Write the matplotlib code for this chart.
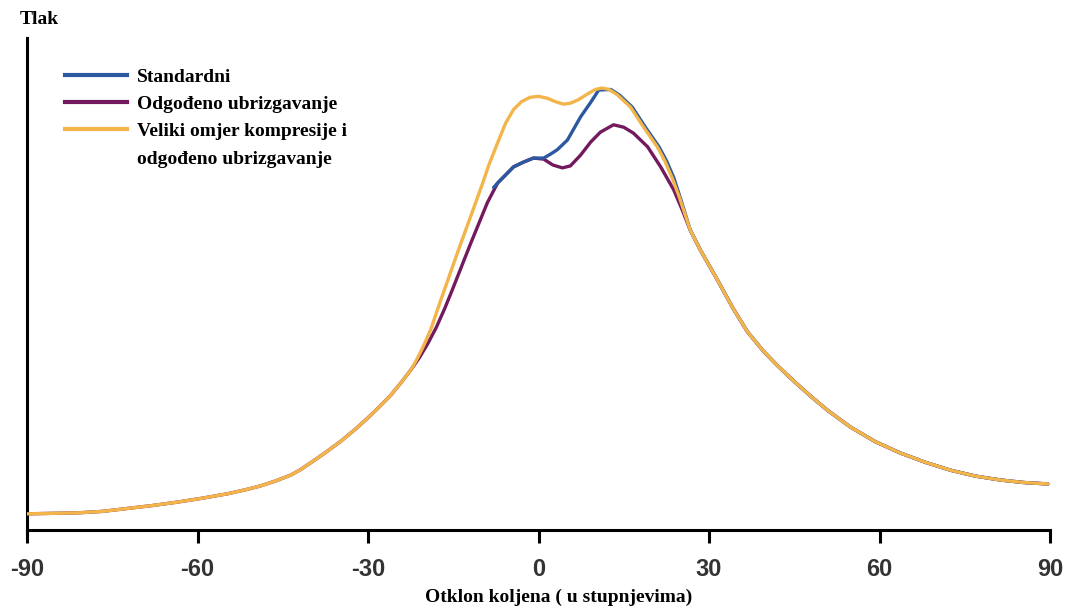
import matplotlib.pyplot as plt
from matplotlib.lines import Line2D

plt.rcParams['font.family'] = ['Liberation Serif', 'DejaVu Serif']
plt.rcParams['axes.unicode_minus'] = False

# shared part of the curves (left rise and right tail), crank angle in degrees
rise_x = [-90.0, -85.5, -81.1, -76.7, -72.3, -67.9, -63.5, -59.1, -54.7, -51.6, -48.9, -46.3,
          -43.6, -41.9, -40.1, -37.5, -34.8, -32.2, -30.1, -28.3, -26.0, -24.3, -22.5]
rise_y = [3.3, 3.4, 3.5, 3.8, 4.4, 5.0, 5.7, 6.5, 7.4, 8.2, 9.0, 10.0,
          11.2, 12.3, 13.7, 15.8, 18.1, 20.6, 22.8, 24.8, 27.5, 29.9, 32.6]
tail_x = [26.7, 28.5, 31.5, 34.3, 36.8, 39.5, 42.0, 45.0, 48.0, 51.0, 54.9, 59.3,
          63.7, 68.1, 72.5, 76.9, 81.3, 85.3, 89.6]
tail_y = [61.2, 57.1, 51.0, 45.1, 40.4, 36.6, 33.6, 30.3, 27.2, 24.3, 21.0, 18.0,
          15.7, 13.8, 12.2, 11.0, 10.2, 9.7, 9.4]

# high compression ratio + delayed injection
orange_x = [-21.5, -20.3, -19.0, -17.2, -14.1, -10.9, -9.7, -8.8, -7.2, -5.8, -4.4, -3.0,
            -1.5, 0.0, 1.6, 3.0, 4.4, 5.6, 7.0, 8.5, 10.0, 11.2, 12.4, 13.9, 16.2, 18.5,
            20.9, 22.2, 23.5, 24.7]
orange_y = [34.6, 37.4, 40.8, 46.9, 57.1, 67.3, 71.2, 74.3, 79.0, 83.0, 85.8, 87.4,
            88.3, 88.5, 88.1, 87.4, 86.9, 87.1, 87.8, 88.9, 89.9, 90.2, 89.9, 88.8, 86.3, 82.2,
            78.2, 75.4, 71.9, 68.2]

# delayed injection
purple_x = [-21.0, -19.5, -18.0, -16.5, -15.0, -13.5, -12.0, -10.2, -9.0, -7.2, -4.4, -2.6,
            -0.9, 0.9, 2.5, 4.2, 5.6, 7.4, 9.2, 10.9, 13.2, 15.0, 16.7, 19.2, 21.5, 23.8, 25.3]
purple_y = [35.1, 38.0, 41.3, 45.2, 49.5, 53.9, 58.3, 63.4, 66.8, 70.8, 74.1, 75.1,
            75.9, 75.7, 74.5, 73.9, 74.3, 76.5, 79.2, 81.2, 82.7, 82.2, 81.0, 78.2, 74.1, 69.4, 65.3]

# standard
blue_x = [-7.9, -7.2, -4.4, -2.6, -0.9, 0.9, 2.1, 3.3, 5.1, 7.4, 9.2, 10.6,
          12.7, 14.2, 16.5, 18.8, 21.2, 22.5, 23.8, 25.0]
blue_y = [69.9, 70.8, 74.1, 75.1, 75.9, 75.9, 76.7, 77.6, 79.6, 84.3, 87.3, 89.8,
          89.9, 88.8, 86.3, 82.2, 78.2, 75.4, 71.9, 67.6]

c_blue = '#2b58a0'
c_purple = '#731a5e'
c_orange = '#f3b54a'

fig = plt.figure(figsize=(10.71, 6.09), dpi=100)
ax = fig.add_axes([27 / 1071, 1 - 530 / 609, 1023 / 1071, 490 / 609])

ax.plot(rise_x + purple_x + tail_x, rise_y + purple_y + tail_y, color=c_purple, lw=2.4,
        solid_capstyle='round', solid_joinstyle='round', zorder=2)
ax.plot(blue_x + tail_x, blue_y + tail_y, color=c_blue, lw=2.4,
        solid_capstyle='round', solid_joinstyle='round', zorder=3)
ax.plot(rise_x + orange_x + tail_x, rise_y + orange_y + tail_y, color=c_orange, lw=2.4,
        solid_capstyle='round', solid_joinstyle='round', zorder=4)

ax.set_xlim(-90, 90)
ax.set_ylim(0, 100)
ax.set_xticks([-90, -60, -30, 0, 30, 60, 90])
ax.set_yticks([])
ax.tick_params(axis='x', direction='out', length=9.5, width=2.2, pad=11,
               labelsize=17, labelcolor='#333333')
for lab in ax.get_xticklabels():
    lab.set_family('Liberation Sans')
    lab.set_fontweight('bold')
for s in ['top', 'right']:
    ax.spines[s].set_visible(False)
for s in ['left', 'bottom']:
    ax.spines[s].set_linewidth(2.2)
ax.spines['left'].set_bounds(-1.5, 100.5)

fig.text(20 / 1071, 1 - 20 / 609, 'Tlak', fontsize=14, fontweight='bold', ha='left', va='center')
fig.text(559 / 1071, 1 - 597 / 609, 'Otklon koljena ( u stupnjevima)', fontsize=14,
         fontweight='bold', ha='center', va='center')

handles = [Line2D([], [], color=c_blue, lw=3),
           Line2D([], [], color=c_purple, lw=3),
           Line2D([], [], color=c_orange, lw=3),
           Line2D([], [], color='none')]
labels = ['Standardni', 'Odgođeno ubrizgavanje', 'Veliki omjer kompresije i', 'odgođeno ubrizgavanje']
leg = fig.legend(handles, labels, loc='upper left', bbox_to_anchor=(65 / 1071, 1 - 68 / 609),
                 frameon=False, borderpad=0, borderaxespad=0, handlelength=3.2,
                 handletextpad=0.5, labelspacing=0.5, prop={'size': 14, 'weight': 'bold'})

fig.savefig('out.png', dpi=100)
